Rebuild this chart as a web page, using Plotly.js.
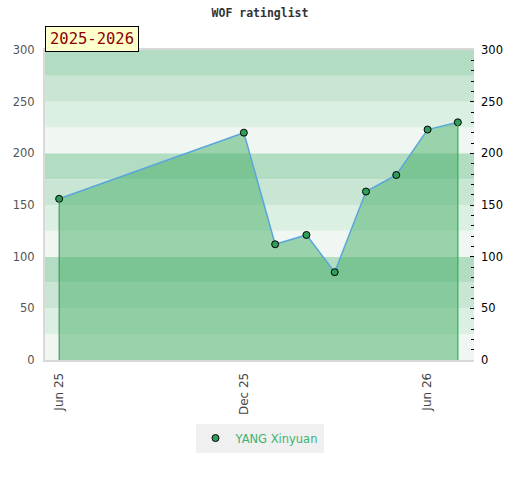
<!DOCTYPE html>
<html>
<head>
<meta charset="utf-8">
<script src="https://cdn.plot.ly/plotly-3.0.1.min.js"></script>
<style>html,body{margin:0;padding:0;background:#fff;}#chart{width:520px;height:480px;}</style>
</head>
<body>
<div id="chart"></div>
<script>
const dates = ['2025-06-01','2025-12-01','2026-01-01','2026-02-01','2026-03-01','2026-04-01','2026-05-01','2026-06-01','2026-07-01'];
const ratings = [156, 220, 112, 121, 85, 163, 179, 223, 230];
const seriesName = 'YANG Xinyuan';
const chartTitle = 'WOF ratinglist';
const seasonLabel = '2025-2026';

const bandColors = ['#f0f7f2', '#dcefe3', '#c9e6d5', '#b2ddc2'];
const shapes = [];
for (let i = 0; i < 12; i++) {
  shapes.push({type:'rect', xref:'paper', yref:'y', x0:0, x1:1, y0:i*25, y1:(i+1)*25,
    fillcolor: bandColors[i % 4], line:{width:0}, layer:'below'});
}
const n = dates.length;
shapes.push({type:'line', xref:'x', yref:'y', x0:dates[0], x1:dates[0], y0:0, y1:ratings[0],
  line:{color:'#3a8a55', width:1}});
shapes.push({type:'line', xref:'x', yref:'y', x0:dates[n-1], x1:dates[n-1], y0:0, y1:ratings[n-1],
  line:{color:'#2db34f', width:1.2}});

const traces = [
  {x: dates, y: ratings, type:'scatter', mode:'lines+markers', fill:'tozeroy',
   fillcolor:'rgba(68,173,102,0.5)', line:{color:'#5aa6dc', width:1.5},
   marker:{color:'#2e9e5a', size:7, line:{color:'#000', width:1}},
   showlegend:false, hoverinfo:'x+y'},
  {x:[null], y:[null], type:'scatter', mode:'markers', name: seriesName,
   marker:{color:'#2e9e5a', size:7, line:{color:'#000', width:1}}, showlegend:true},
  {x: dates, y: ratings, yaxis:'y2', type:'scatter', mode:'none', showlegend:false, hoverinfo:'skip'}
];

const layout = {
  width:520, height:480,
  margin:{l:45, r:46, t:50, b:120},
  paper_bgcolor:'#fff', plot_bgcolor:'rgba(0,0,0,0)',
  title:{text: chartTitle, x:0.5, xanchor:'center', y:0.982, yanchor:'top',
    font:{family:'DejaVu Sans Mono', size:11.5, color:'#333', weight:'bold'}},
  xaxis:{type:'date', range:['2025-05-18','2026-07-17'], tick0:'2025-06-01', dtick:'M6',
    tickformat:'%b %y', tickangle:-90, showgrid:false, zeroline:false,
    showline:true, linecolor:'#d9d9d9', linewidth:2, mirror:true,
    ticks:'', ticklabelstandoff:6, tickfont:{family:'DejaVu Sans', size:12, color:'#444'}},
  yaxis:{range:[0,300], dtick:50, showgrid:false, zeroline:false,
    showline:true, linecolor:'#d9d9d9', linewidth:2,
    ticks:'', ticklabelstandoff:6, tickfont:{family:'DejaVu Sans', size:11.5, color:'#555'}},
  yaxis2:{overlaying:'y', side:'right', range:[0,300], dtick:50, showgrid:false, zeroline:false,
    showline:false, ticks:'inside', ticklen:4, tickcolor:'#000', tickwidth:1,
    minor:{dtick:10, ticks:'inside', ticklen:3, tickcolor:'#000', tickwidth:1, showgrid:false},
    ticklabelstandoff:6, tickfont:{family:'DejaVu Sans', size:11.5, color:'#000'}},
  shapes: shapes,
  annotations:[{text: seasonLabel, xref:'paper', yref:'paper', x:0, y:1, xanchor:'left', yanchor:'bottom',
    yshift:-2, showarrow:false, font:{family:'DejaVu Sans Mono', size:15.5, color:'#8b0000'},
    bgcolor:'#ffffcc', bordercolor:'#000', borderwidth:1, borderpad:3, width:86}],
  showlegend:true,
  legend:{orientation:'h', x:0.5, xanchor:'center', y:-0.205, yanchor:'top', itemwidth:30,
    bgcolor:'#f0f0f0', font:{family:'DejaVu Sans', size:11.5, color:'#3cb371'}}
};

Plotly.newPlot('chart', traces, layout, {displayModeBar:false, staticPlot:true});
</script>
</body>
</html>
